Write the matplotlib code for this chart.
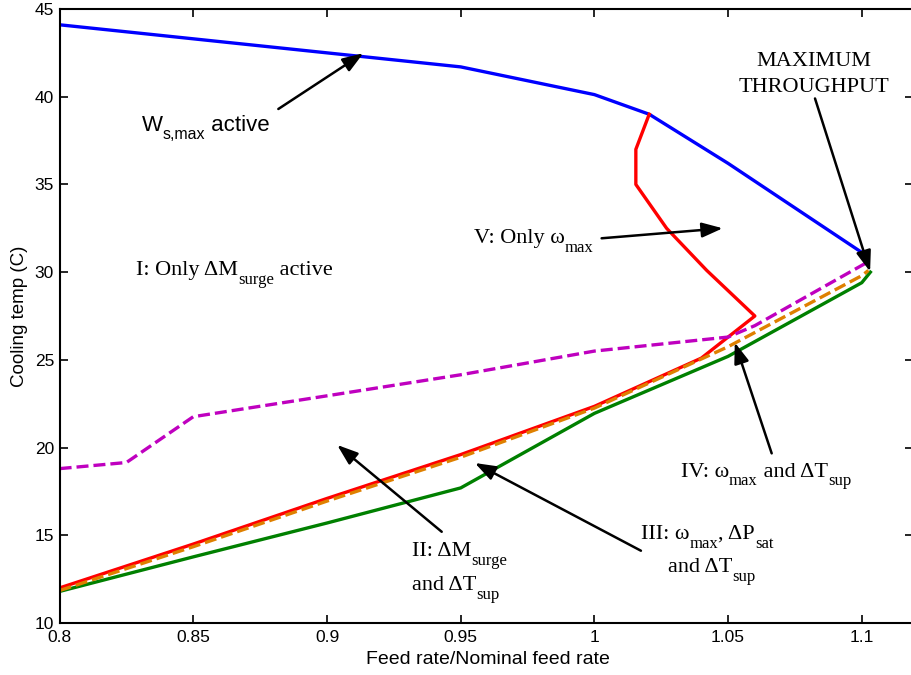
import matplotlib
matplotlib.use('Agg')
import matplotlib.pyplot as plt

plt.rcParams['font.family'] = ['Liberation Sans', 'DejaVu Sans']

# ---- data ----
blue_x = [0.8, 0.85, 0.9, 0.95, 1.0, 1.0205, 1.05, 1.1022]
blue_y = [44.1, 43.3, 42.5, 41.7, 40.12, 39.0, 36.2, 30.9]

red_x = [0.8, 0.85, 0.9, 0.95, 1.0, 1.04, 1.06, 1.042, 1.027, 1.0155, 1.0155, 1.0205]
red_y = [12.0, 14.5, 17.1, 19.6, 22.35, 25.1, 27.5, 30.1, 32.5, 35.0, 37.0, 39.0]

green_x = [0.8, 0.85, 0.9, 0.95, 1.0, 1.05, 1.1, 1.1032]
green_y = [11.8, 13.77, 15.7, 17.7, 21.95, 25.2, 29.4, 30.0]

orange_x = [0.8, 0.85, 0.9, 0.95, 1.0, 1.05, 1.1, 1.1025]
orange_y = [11.85, 14.35, 16.95, 19.45, 22.25, 25.75, 29.8, 30.1]

purple_x = [0.8, 0.825, 0.85, 0.9, 0.95, 1.0, 1.05, 1.06, 1.1025]
purple_y = [18.8, 19.15, 21.76, 22.95, 24.15, 25.5, 26.3, 26.95, 30.6]

xticks = [0.8, 0.85, 0.9, 0.95, 1.0, 1.05, 1.1]
xtick_labels = ['0.8', '0.85', '0.9', '0.95', '1', '1.05', '1.1']
yticks = [10, 15, 20, 25, 30, 35, 40, 45]
ytick_labels = ['10', '15', '20', '25', '30', '35', '40', '45']

# ---- figure ----
DPI = 100
fig = plt.figure(figsize=(9.12, 6.75), dpi=DPI)
ax = fig.add_axes([59.6 / 912, 52 / 675, (915.5 - 59.6) / 912, 614 / 675])

lw = 2.4
dash = (3.6, 1.5)
ax.plot(blue_x, blue_y, color='#0000ff', lw=lw)
ax.plot(red_x, red_y, color='#ff0000', lw=lw)
ax.plot(green_x, green_y, color='#008000', lw=lw)
ax.plot(purple_x, purple_y, color='#bf00bf', lw=lw, linestyle=(0, dash))
ax.plot(orange_x, orange_y, color='#df8000', lw=lw, linestyle=(0, dash))

ax.set_xlim(0.8, 0.8 + (915.5 - 59.6) / 2674)
ax.set_ylim(10, 45)
ax.set_xticks(xticks)
ax.set_xticklabels(xtick_labels)
ax.set_yticks(yticks)
ax.set_yticklabels(ytick_labels)
ax.tick_params(direction='in', length=6, width=1.2, top=True, right=True,
               labelsize=12.5)
ax.tick_params(axis='y', which='both', right=True)
ax.yaxis.set_tick_params(which='major', length=6)
ax.tick_params(axis='x', pad=5)
ax.tick_params(axis='y', pad=4)
for tick in ax.yaxis.get_major_ticks():
    tick.tick2line.set_markersize(7.5)
for s in ax.spines.values():
    s.set_linewidth(1.5)

ax.set_xlabel('Feed rate/Nominal feed rate', fontsize=14, labelpad=4)
ax.set_ylabel('Cooling temp (C)', fontsize=13.5, labelpad=5)

renderer = fig.canvas.get_renderer()


def width_pts(s, size, family):
    t1 = fig.text(0, 0, s + '|', fontsize=size, family=family)
    t2 = fig.text(0, 0, '|', fontsize=size, family=family)
    w = t1.get_window_extent(renderer).width - t2.get_window_extent(renderer).width
    t1.remove()
    t2.remove()
    return w * 72.0 / DPI


def rich(x, y, parts, family='Liberation Serif', size=16, subsize=12, drop=6.3):
    dx = 0.0
    for s, sub in parts:
        fs = subsize if sub else size
        dy = -drop if sub else 0.0
        ax.annotate(s, xy=(x, y), xycoords='data', xytext=(dx, dy),
                    textcoords='offset points', fontsize=fs, family=family,
                    va='baseline', ha='left', color='black')
        dx += width_pts(s, fs, family)


serif = dict(family='Liberation Serif', fontsize=16, color='black')
aprops = dict(arrowstyle='-|>,head_length=0.7,head_width=0.25', color='black',
              lw=1.8, shrinkA=0, shrinkB=0, mutation_scale=18)


def arrow(tail, tip):
    ax.annotate('', xy=tip, xytext=tail, arrowprops=aprops)


# labels
rich(0.8307, 38.07, [('W', 0), ('s,max', 1), (' active', 0)],
     family='Liberation Sans', size=16, subsize=11.5, drop=6.2)
arrow((0.8818, 39.3), (0.9136, 42.48))

rich(0.8286, 29.84, [('I: Only ΔM', 0), ('surge', 1), (' active', 0)])

rich(0.955, 31.65, [('V: Only ω', 0), ('max', 1)])
arrow((1.0027, 31.93), (1.048, 32.5))

ax.text(1.0822, 41.76, 'MAXIMUM', va='baseline', ha='center', **serif)
ax.text(1.0822, 40.29, 'THROUGHPUT', va='baseline', ha='center', **serif)
arrow((1.0825, 39.9), (1.1031, 30.03))

rich(1.0323, 18.34, [('IV: ω', 0), ('max', 1), (' and ΔT', 0), ('sup', 1)])
arrow((1.0663, 19.67), (1.0525, 25.99))

rich(1.0174, 14.79, [('III: ω', 0), ('max', 1), (', ΔP', 0), ('sat', 1)])
rich(1.0275, 12.92, [('and ΔT', 0), ('sup', 1)])
arrow((1.0174, 14.12), (0.9553, 19.12))

rich(0.9319, 13.82, [('II: ΔM', 0), ('surge', 1)])
rich(0.9319, 11.88, [('and ΔT', 0), ('sup', 1)])
arrow((0.9429, 15.2), (0.9038, 20.15))

fig.savefig('out.png', dpi=DPI)
